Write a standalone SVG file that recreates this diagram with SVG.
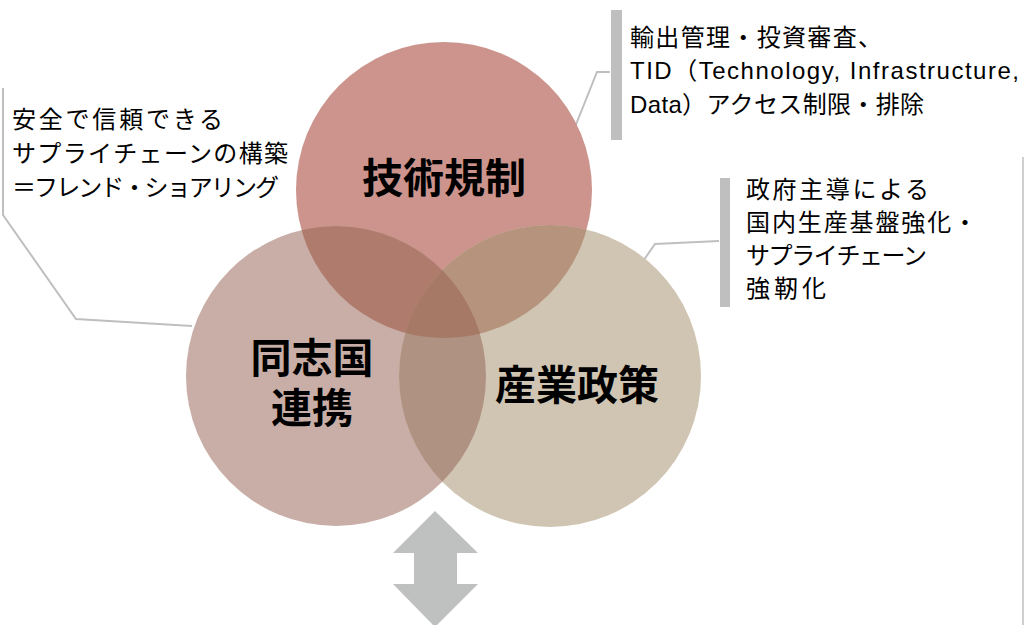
<svg xmlns="http://www.w3.org/2000/svg" width="1024" height="625" viewBox="0 0 1024 625">
  <style>
    .lbl { font-family: "Noto Sans CJK JP", sans-serif; font-weight: 700; font-size: 41px; fill: #000; text-anchor: middle; }
    .note { font-family: "Liberation Sans", "Noto Sans CJK JP", sans-serif; font-size: 24px; fill: #000; }
    .bar { fill: #BFBFBF; }
    .conn { fill: none; stroke: #BFBFBF; stroke-width: 2; }
  </style>
  <defs>
    <clipPath id="clipTop"><circle cx="444" cy="190" r="148"/></clipPath>
    <clipPath id="clipLeft"><circle cx="336" cy="376" r="150"/></clipPath>
    <clipPath id="clipRight"><circle cx="550" cy="376" r="151"/></clipPath>
  </defs>
  <rect width="1024" height="625" fill="#FFFFFF"/>

  <g id="connectors">
    <polyline class="conn" points="610,72 597,72 569,142"/>
    <polyline class="conn" points="719,241 655,244 641,264"/>
    <polyline class="conn" points="3,88 3,215 76,319 192,326"/>
    <line x1="1023" y1="157" x2="1023" y2="625" stroke="#BFBFBF" stroke-width="1.5"/>
  </g>

  <g id="node-tech">
    <circle cx="444" cy="190" r="148" fill="#CC948C"/>
  </g>
  <g id="node-allies">
    <circle cx="336" cy="376" r="150" fill="#C8AEA6"/>
  </g>
  <g id="node-industry">
    <circle cx="550" cy="376" r="151" fill="#CFC5B2"/>
  </g>
  <g id="overlaps">
    <circle cx="444" cy="190" r="148" fill="#AF7B6D" clip-path="url(#clipLeft)"/>
    <circle cx="444" cy="190" r="148" fill="#B5937C" clip-path="url(#clipRight)"/>
    <circle cx="336" cy="376" r="150" fill="#B09282" clip-path="url(#clipRight)"/>
    <g clip-path="url(#clipRight)">
      <circle cx="444" cy="190" r="148" fill="#A67966" clip-path="url(#clipLeft)"/>
    </g>
  </g>
  <g id="labels">
    <text class="lbl" x="444" y="193">技術規制</text>
    <text class="lbl" x="312" y="373">同志国<tspan x="312" dy="50">連携</tspan></text>
    <text class="lbl" x="577" y="400">産業政策</text>
  </g>

  <g id="callout-tech">
    <rect class="bar" x="611" y="10" width="11" height="130"/>
    <text class="note" x="630" y="46" textLength="252">輸出管理・投資審査、</text>
    <text class="note" x="630" y="79" textLength="389">TID（Technology, Infrastructure,</text>
    <text class="note" x="630" y="113" textLength="294">Data）アクセス制限・排除</text>
  </g>

  <g id="callout-allies">
    <text class="note" x="12" y="128" textLength="211">安全で信頼できる</text>
    <text class="note" x="12" y="162" textLength="276">サプライチェーンの構築</text>
    <text class="note" x="12" y="196" textLength="267">＝フレンド・ショアリング</text>
  </g>

  <g id="callout-industry">
    <rect class="bar" x="720" y="178" width="10" height="129"/>
    <text class="note" x="746" y="198" textLength="183">政府主導による</text>
    <text class="note" x="746" y="231" textLength="231">国内生産基盤強化・</text>
    <text class="note" x="746" y="264" textLength="181">サプライチェーン</text>
    <text class="note" x="746" y="297" textLength="80">強靭化</text>
  </g>

  <g id="arrow">
    <polygon fill="#BFC0C0" points="435,511 478,553 457,553 457,584 478,584 435,627 393,584 414,584 414,553 393,553"/>
  </g>
</svg>
